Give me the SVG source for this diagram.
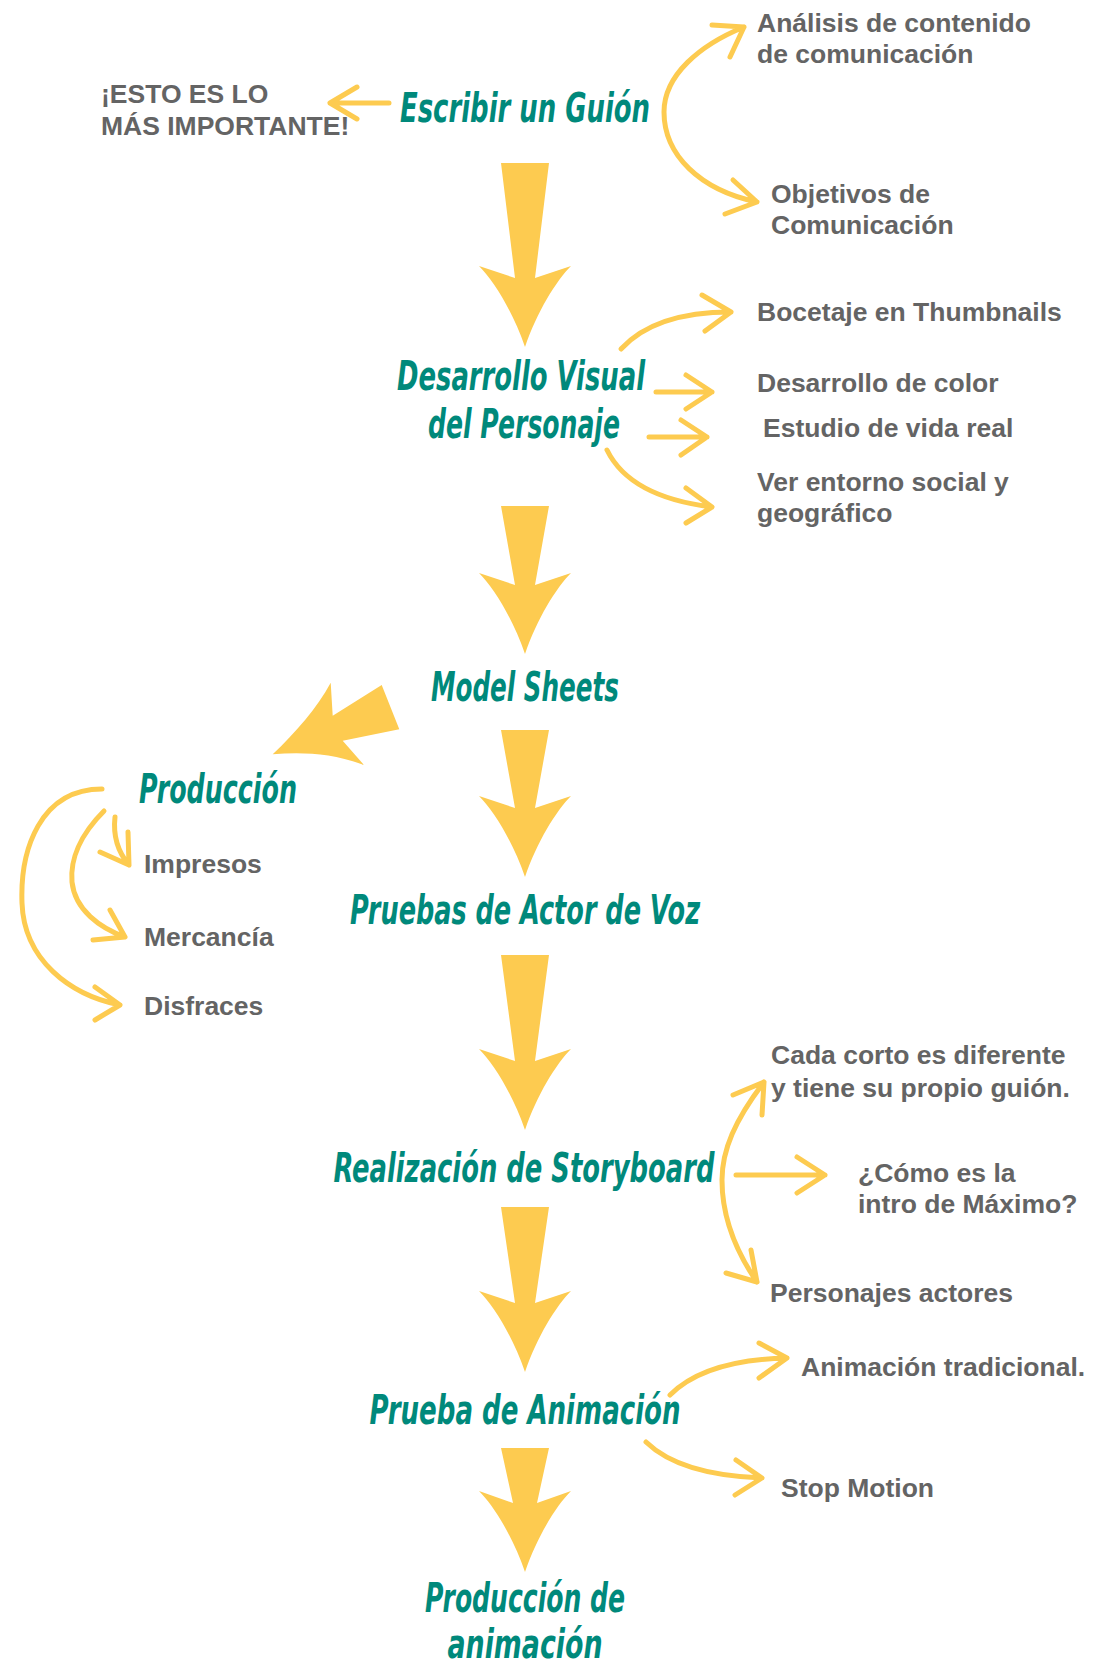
<svg xmlns="http://www.w3.org/2000/svg" width="1097" height="1671" viewBox="0 0 1097 1671">
<style>
.t{font-family:"Liberation Sans Narrow","DejaVu Sans Condensed","Liberation Sans",sans-serif;font-weight:bold;font-style:italic;font-size:40px;fill:#00897B;text-anchor:middle}
.g{font-family:"Liberation Sans",Arial,sans-serif;font-weight:bold;font-size:26.5px;fill:#646464}
.c{fill:none;stroke:#FDCB50;stroke-width:5;stroke-linecap:round;stroke-linejoin:round}
.big{fill:#FDCB50}
</style>
<rect width="1097" height="1671" fill="#ffffff"/>
<g id="connectors">
  <path class="big" d="M501,163 L549,163 L535,278 L571,266 C556,281 537,312 525,347 C513,312 494,281 479,266 L515,278 Z"/>
  <path class="big" d="M501,506 L549,506 L535,585 L571,573 C556,588 537,619 525,654 C513,619 494,588 479,573 L515,585 Z"/>
  <path class="big" d="M501,730 L549,730 L535,808 L571,796 C556,811 537,842 525,877 C513,842 494,811 479,796 L515,808 Z"/>
  <path class="big" d="M501,955 L549,955 L535,1061 L571,1049 C556,1064 537,1095 525,1130 C513,1095 494,1064 479,1049 L515,1061 Z"/>
  <path class="big" d="M501,1207 L549,1207 L535,1303 L571,1291 C556,1306 537,1337 525,1372 C513,1337 494,1306 479,1291 L515,1303 Z"/>
  <path class="big" d="M501,1448 L549,1448 L537,1503 L571,1491 C556,1506 537,1537 525,1572 C513,1537 494,1506 479,1491 L513,1503 Z"/>
  <path class="big" d="M381.7,685 L399.3,729.3 L342.7,740.7 L364,765 C332,753 302,752 272.7,754.3 C296,732 317,708 330.7,682.7 L332.7,715.7 Z"/>

  <path class="c" d="M389,103 L330,103 M357,87 L330,103 L357,119"/>
  <path class="c" d="M744,27 C700,45 664,75 664,112 C664,155 700,190 757,202 M712,25 L744,27 L730,57 M733,180 L757,202 L725,214"/>
  <path class="c" d="M621,349 Q655,312 731,312 M702,295 L731,312 L705,331"/>
  <path class="c" d="M656,392 L712,392 M686,375 L712,392 L686,409"/>
  <path class="c" d="M649,437 L707,437 M681,420 L707,437 L681,455"/>
  <path class="c" d="M607,450 Q630,497 712,507 M686,488 L712,507 L686,523"/>
  <path class="c" d="M102,789 C40,789 20,850 22,903 C24,960 70,995 120,1005 M95,987 L120,1005 L95,1020"/>
  <path class="c" d="M104,811 C80,835 70,860 72,882 C75,910 100,928 125,937 M110,910 L125,937 L93,940"/>
  <path class="c" d="M115,817 C113,835 118,852 129,865 M128,832 L129,865 L100,852"/>
  <path class="c" d="M764,1082 C735,1120 722,1150 722,1180 C722,1215 735,1250 757,1282 M733,1095 L764,1082 L762,1115 M751,1250 L757,1282 L726,1273"/>
  <path class="c" d="M736,1175 L825,1175 M797,1157 L825,1175 L797,1193"/>
  <path class="c" d="M670,1395 Q705,1360 787,1358 M759,1343 L787,1358 L759,1378"/>
  <path class="c" d="M646,1442 Q680,1475 762,1478 M736,1460 L762,1478 L735,1495"/>
</g>
<g id="n-guion"><text class="t" x="525" y="122" textLength="250" lengthAdjust="spacingAndGlyphs">Escribir un Guión</text></g>
<g id="n-importante"><text class="g" x="101" y="103">¡ESTO ES LO</text><text class="g" x="101" y="135">MÁS IMPORTANTE!</text></g>
<g id="n-analisis"><text class="g" x="757" y="32">Análisis de contenido</text><text class="g" x="757" y="63">de comunicación</text></g>
<g id="n-objetivos"><text class="g" x="771" y="203">Objetivos de</text><text class="g" x="771" y="234">Comunicación</text></g>
<g id="n-desarrollo"><text class="t" x="521" y="390" textLength="248" lengthAdjust="spacingAndGlyphs">Desarrollo Visual</text><text class="t" x="524" y="438" textLength="192" lengthAdjust="spacingAndGlyphs">del Personaje</text></g>
<g id="n-bocetaje"><text class="g" x="757" y="321">Bocetaje en Thumbnails</text></g>
<g id="n-color"><text class="g" x="757" y="392">Desarrollo de color</text></g>
<g id="n-estudio"><text class="g" x="763" y="437">Estudio de vida real</text></g>
<g id="n-entorno"><text class="g" x="757" y="491">Ver entorno social y</text><text class="g" x="757" y="522">geográfico</text></g>
<g id="n-model"><text class="t" x="525" y="701" textLength="188" lengthAdjust="spacingAndGlyphs">Model Sheets</text></g>
<g id="n-produccion"><text class="t" x="218" y="803" textLength="158" lengthAdjust="spacingAndGlyphs">Producción</text></g>
<g id="n-impresos"><text class="g" x="144" y="873">Impresos</text></g>
<g id="n-mercancia"><text class="g" x="144" y="946">Mercancía</text></g>
<g id="n-disfraces"><text class="g" x="144" y="1015">Disfraces</text></g>
<g id="n-pruebas"><text class="t" x="525" y="924" textLength="350" lengthAdjust="spacingAndGlyphs">Pruebas de Actor de Voz</text></g>
<g id="n-storyboard"><text class="t" x="524" y="1182" textLength="381" lengthAdjust="spacingAndGlyphs">Realización de Storyboard</text></g>
<g id="n-cada"><text class="g" x="771" y="1064">Cada corto es diferente</text><text class="g" x="771" y="1097">y tiene su propio guión.</text></g>
<g id="n-como"><text class="g" x="858" y="1182">¿Cómo es la</text><text class="g" x="858" y="1213">intro de Máximo?</text></g>
<g id="n-personajes"><text class="g" x="770" y="1302">Personajes actores</text></g>
<g id="n-prueba-anim"><text class="t" x="525" y="1424" textLength="311" lengthAdjust="spacingAndGlyphs">Prueba de Animación</text></g>
<g id="n-tradicional"><text class="g" x="801" y="1376">Animación tradicional.</text></g>
<g id="n-stop"><text class="g" x="781" y="1497">Stop Motion</text></g>
<g id="n-prod-anim"><text class="t" x="525" y="1612" textLength="200" lengthAdjust="spacingAndGlyphs">Producción de</text><text class="t" x="525" y="1658" textLength="155" lengthAdjust="spacingAndGlyphs">animación</text></g>
</svg>
